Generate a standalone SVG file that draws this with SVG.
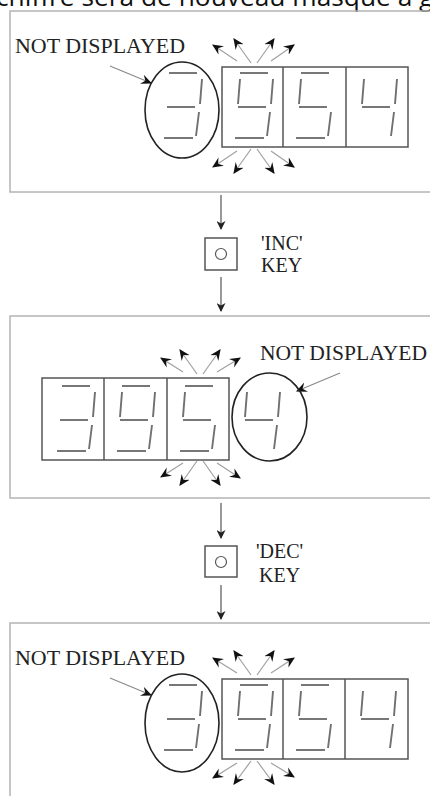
<svg xmlns="http://www.w3.org/2000/svg" xmlns:xlink="http://www.w3.org/1999/xlink" width="430" height="796" viewBox="0 0 430 796">
<style>
.frame{fill:none;stroke:#b4b4b4;stroke-width:1.5}
.box{fill:none;stroke:#555;stroke-width:1.5}
.seg{stroke:#707070;stroke-width:1.9;stroke-linecap:butt;fill:none}
.ell{fill:none;stroke:#222;stroke-width:1.6}
.burst{stroke:#a0a0a0;stroke-width:1.2;fill:none;marker-end:url(#ah)}
.ptr{stroke:#888;stroke-width:1.1;fill:none;marker-end:url(#ah)}
.conn{stroke:#444;stroke-width:1.1;fill:none;marker-end:url(#ch)}
.lbl{font-family:"Liberation Serif","Times New Roman",serif;font-size:20px;fill:#222}
.key{fill:#fff;stroke:#555;stroke-width:1.5}
.keyc{fill:none;stroke:#555;stroke-width:1.2}
</style>
<defs>
<marker id="ah" viewBox="0 0 10 10" refX="9" refY="5" markerWidth="11" markerHeight="11" markerUnits="userSpaceOnUse" orient="auto">
<path d="M0,0.5 L10,5 L0,9.5 L3.5,5 z" fill="#111"/>
</marker>
<marker id="ch" viewBox="0 0 10 10" refX="9" refY="5" markerWidth="10" markerHeight="9" markerUnits="userSpaceOnUse" orient="auto">
<path d="M0,0 L10,5 L0,10 L3,5 z" fill="#222"/>
</marker>
<g id="sTop"><line class="seg" x1="18" y1="6" x2="46" y2="6"/></g>
<g id="sUL"><line class="seg" x1="18" y1="12" x2="16" y2="37"/></g>
<g id="sUR"><line class="seg" x1="51" y1="12" x2="49" y2="37"/></g>
<g id="sMid"><line class="seg" x1="16" y1="40" x2="44" y2="40"/></g>
<g id="sLR"><line class="seg" x1="48" y1="45" x2="45" y2="69"/></g>
<g id="sBot"><line class="seg" x1="13" y1="71" x2="42" y2="71"/></g>
<g id="d3"><use href="#sTop"/><use href="#sUR"/><use href="#sMid"/><use href="#sLR"/><use href="#sBot"/></g>
<g id="d9"><use href="#sTop"/><use href="#sUL"/><use href="#sUR"/><use href="#sMid"/><use href="#sLR"/><use href="#sBot"/></g>
<g id="d5"><use href="#sTop"/><use href="#sUL"/><use href="#sMid"/><use href="#sLR"/><use href="#sBot"/></g>
<g id="d4"><use href="#sUL"/><use href="#sUR"/><use href="#sMid"/><use href="#sLR"/></g>
</defs>
<rect width="430" height="796" fill="#fff"/>
<text x="-4" y="6" font-family="'Open Sans','Liberation Sans',sans-serif" font-size="26" fill="#111" textLength="452" lengthAdjust="spacingAndGlyphs">chiffre sera de nouveau masqué à ga</text>

<g id="panel1">
<rect class="frame" x="10" y="11" width="440" height="181"/>
<text class="lbl" x="15" y="53" textLength="170" lengthAdjust="spacingAndGlyphs">NOT DISPLAYED</text>
<line class="ptr" x1="110" y1="66" x2="151" y2="83"/>
<ellipse class="ell" cx="182" cy="110" rx="37" ry="48"/>
<use href="#d3" x="151" y="67"/>
<rect class="box" x="222" y="67" width="186" height="80"/>
<line class="box" x1="283" y1="67" x2="283" y2="147"/>
<line class="box" x1="346" y1="67" x2="346" y2="147"/>
<use href="#d9" x="222" y="67"/>
<use href="#d5" x="283" y="67"/>
<use href="#d4" x="346" y="67"/>
<line class="burst" x1="237" y1="61" x2="213" y2="45"/>
<line class="burst" x1="251" y1="63" x2="234" y2="39"/>
<line class="burst" x1="257" y1="63" x2="274" y2="39"/>
<line class="burst" x1="271" y1="61" x2="294" y2="45"/>
<line class="burst" x1="237" y1="151" x2="213" y2="167"/>
<line class="burst" x1="251" y1="149" x2="234" y2="173"/>
<line class="burst" x1="257" y1="149" x2="274" y2="173"/>
<line class="burst" x1="271" y1="151" x2="294" y2="167"/>
</g>

<g id="key-inc">
<rect class="key" x="205" y="238" width="32" height="32"/>
<circle class="keyc" cx="221" cy="254" r="5.5"/>
<text class="lbl" x="261" y="250">'INC'</text>
<text class="lbl" x="261" y="272">KEY</text>
</g>

<g id="panel2">
<rect class="frame" x="10" y="316" width="440" height="182"/>
<text class="lbl" x="260" y="360" textLength="167" lengthAdjust="spacingAndGlyphs">NOT DISPLAYED</text>
<line class="ptr" x1="340" y1="373" x2="297" y2="391"/>
<ellipse class="ell" cx="269.5" cy="417" rx="37.5" ry="44"/>
<use href="#d4" x="229" y="380"/>
<rect class="box" x="42" y="378" width="187" height="82"/>
<line class="box" x1="104" y1="378" x2="104" y2="460"/>
<line class="box" x1="167" y1="378" x2="167" y2="460"/>
<use href="#d3" x="44" y="380"/>
<use href="#d9" x="104" y="380"/>
<use href="#d5" x="167" y="380"/>
<line class="burst" x1="183" y1="372" x2="161" y2="358"/>
<line class="burst" x1="197" y1="374" x2="180" y2="350"/>
<line class="burst" x1="203" y1="374" x2="220" y2="350"/>
<line class="burst" x1="217" y1="372" x2="240" y2="358"/>
<line class="burst" x1="183" y1="463" x2="161" y2="477"/>
<line class="burst" x1="197" y1="461" x2="180" y2="485"/>
<line class="burst" x1="203" y1="461" x2="220" y2="485"/>
<line class="burst" x1="217" y1="463" x2="240" y2="478"/>
</g>

<g id="key-dec">
<rect class="key" x="205" y="546" width="32" height="31"/>
<circle class="keyc" cx="221" cy="562" r="5.5"/>
<text class="lbl" x="256" y="558">'DEC'</text>
<text class="lbl" x="259" y="582">KEY</text>
</g>

<g id="panel3">
<rect class="frame" x="10" y="623" width="440" height="200"/>
<g transform="translate(0,612)">
<text class="lbl" x="15" y="53" textLength="170" lengthAdjust="spacingAndGlyphs">NOT DISPLAYED</text>
<line class="ptr" x1="110" y1="66" x2="151" y2="83"/>
<ellipse class="ell" cx="182" cy="111" rx="37" ry="49"/>
<use href="#d3" x="151" y="67"/>
<rect class="box" x="222" y="67" width="186" height="80"/>
<line class="box" x1="283" y1="67" x2="283" y2="147"/>
<line class="box" x1="345" y1="67" x2="345" y2="147"/>
<use href="#d9" x="222" y="67"/>
<use href="#d5" x="283" y="67"/>
<use href="#d4" x="345" y="67"/>
<line class="burst" x1="237" y1="61" x2="213" y2="46"/>
<line class="burst" x1="251" y1="63" x2="234" y2="39"/>
<line class="burst" x1="257" y1="63" x2="274" y2="39"/>
<line class="burst" x1="271" y1="61" x2="294" y2="46"/>
<line class="burst" x1="237" y1="151" x2="213" y2="166"/>
<line class="burst" x1="251" y1="149" x2="234" y2="172"/>
<line class="burst" x1="257" y1="149" x2="274" y2="172"/>
<line class="burst" x1="271" y1="151" x2="294" y2="165"/>
</g>
</g>

<g id="connectors">
<line class="conn" x1="221" y1="195" x2="221" y2="229"/>
<line class="conn" x1="221" y1="277" x2="221" y2="311"/>
<line class="conn" x1="221" y1="503" x2="221" y2="538"/>
<line class="conn" x1="221" y1="585" x2="221" y2="619"/>
</g>
</svg>
